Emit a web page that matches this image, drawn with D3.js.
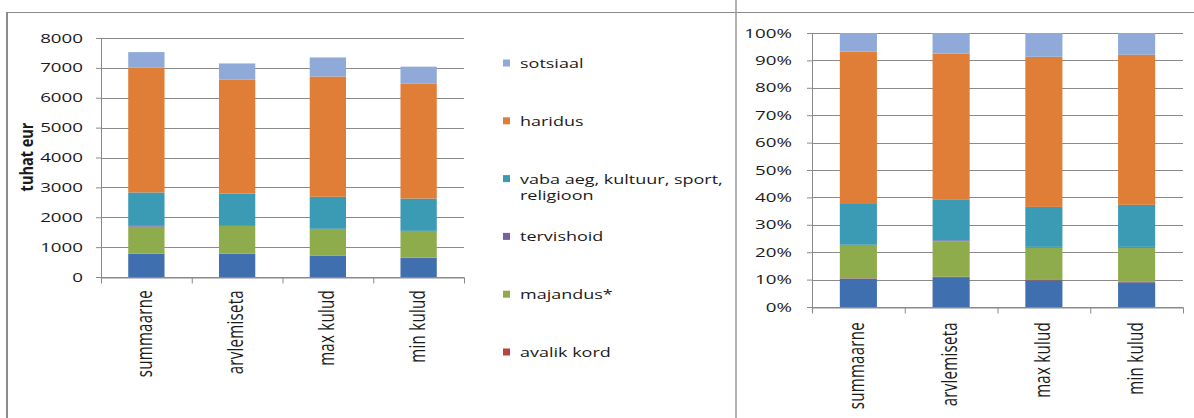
<!DOCTYPE html>
<html>
<head>
<meta charset="utf-8">
<script src="https://cdn.jsdelivr.net/npm/d3@7"></script>
<style>
  body { margin: 0; background: #fff; }
  text { font-family: "Open Sans", sans-serif; fill: #1a1a1a; }
</style>
</head>
<body>
<svg id="chart" width="1194" height="418"></svg>
<script>
// Stacked bars: absolute (tuhat eur) on the left, 100% stacked on the right

var categories = ["summaarne", "arvlemiseta", "max kulud", "min kulud"];

// series, bottom of stack first (values in tuhat eur)
var uldised    = [780, 780, 715, 635];
var avalikKord = [10, 10, 10, 10];
var majandus   = [896, 925, 863, 875];
var tervishoid = [25, 25, 25, 25];
var vabaAeg    = [1119, 1055, 1072, 1080];
var haridus    = [4185, 3817, 4026, 3855];
var sotsiaal   = [513, 536, 638, 560];

var keys = ["uldised", "avalikKord", "majandus", "tervishoid", "vabaAeg", "haridus", "sotsiaal"];
var seriesNames = ["üldised valitsussektori teenused", "avalik kord", "majandus*", "tervishoid",
  "vaba aeg, kultuur, sport, religioon", "haridus", "sotsiaal"];
var colors = ["#3f6fae", "#b8433f", "#8eac4c", "#7b5fa3", "#3b9ab4", "#e07e37", "#8fa9d8"];

var leftTicks = [0, 1000, 2000, 3000, 4000, 5000, 6000, 7000, 8000];
var rightTicks = [0, 0.1, 0.2, 0.3, 0.4, 0.5, 0.6, 0.7, 0.8, 0.9, 1];

// legend shows top series first; the bottom one is cut off in the original
var legendKeys = ["sotsiaal", "haridus", "vabaAeg", "tervishoid", "majandus", "avalikKord"];
var legendLines = {
  sotsiaal: ["sotsiaal"],
  haridus: ["haridus"],
  vabaAeg: ["vaba aeg, kultuur, sport,", "religioon"],
  tervishoid: ["tervishoid"],
  majandus: ["majandus*"],
  avalikKord: ["avalik kord"]
};

var svg = d3.select("#chart"),
  gridColor = "#8a8a8a",
  stretch = 1.5; // text in the picture is wider than it is tall

var series = {uldised: uldised, avalikKord: avalikKord, majandus: majandus, tervishoid: tervishoid,
  vabaAeg: vabaAeg, haridus: haridus, sotsiaal: sotsiaal};

var table = categories.map(function (c, i) {
  var row = {cat: c};
  keys.forEach(function (k) { row[k] = series[k][i]; });
  return row;
});

var color = d3.scaleOrdinal().domain(keys).range(colors);

// panel frame
svg.append("line").attr("x1", 6).attr("x2", 1194).attr("y1", 12.5).attr("y2", 12.5)
  .attr("stroke", "#8c8c8c").attr("stroke-width", 1);
svg.append("line").attr("x1", 7).attr("x2", 7).attr("y1", 12).attr("y2", 418)
  .attr("stroke", "#8c8c8c").attr("stroke-width", 2);
svg.append("line").attr("x1", 736).attr("x2", 736).attr("y1", 0).attr("y2", 418)
  .attr("stroke", "#9a9a9a").attr("stroke-width", 1.5);

function drawChart(opt) {
  var g = svg.append("g");
  var x = d3.scaleBand().domain(categories).range(opt.xRange).paddingInner(0.6).paddingOuter(0.3);
  var xEdge = d3.scaleLinear().domain([0, categories.length]).range(opt.xRange);
  var y = d3.scaleLinear().domain(opt.yDomain).range(opt.yRange);

  // gridlines behind the bars
  g.append("g").selectAll("line")
    .data(opt.ticks)
    .enter().append("line")
    .attr("x1", opt.xRange[0]).attr("x2", opt.xRange[1])
    .attr("y1", function (d) { return Math.round(y(d)) + 0.5; })
    .attr("y2", function (d) { return Math.round(y(d)) + 0.5; })
    .attr("stroke", gridColor);

  var stack = d3.stack().keys(keys);
  if (opt.expand) stack.offset(d3.stackOffsetExpand);

  g.append("g").selectAll("g")
    .data(stack(table))
    .enter().append("g")
    .attr("fill", function (d) { return color(d.key); })
    .selectAll("rect")
    .data(function (d) { return d; })
    .enter().append("rect")
    .attr("x", function (d) { return x(d.data.cat); })
    .attr("width", x.bandwidth())
    .attr("y", function (d) { return y(d[1]); })
    .attr("height", function (d) { return y(d[0]) - y(d[1]); });

  // y axis
  var yAxis = g.append("g")
    .attr("transform", "translate(" + opt.xRange[0] + ",0)")
    .call(d3.axisLeft(y).tickValues(opt.ticks).tickSize(5).tickSizeOuter(0).tickFormat(""));
  yAxis.selectAll("line, path").attr("stroke", gridColor);

  g.append("g").selectAll("text")
    .data(opt.ticks)
    .enter().append("text")
    .attr("transform", function (d) {
      return "translate(" + (opt.xRange[0] - opt.labelGap) + "," + y(d) + ") scale(" + stretch + ",1)";
    })
    .attr("text-anchor", "end")
    .attr("dy", "0.36em")
    .style("font-size", "12.5px")
    .text(opt.format);

  // x axis with ticks at category boundaries
  var xAxis = g.append("g")
    .attr("transform", "translate(0," + (Math.round(opt.yRange[0]) + 0.5) + ")")
    .call(d3.axisBottom(xEdge).tickValues(d3.range(categories.length + 1)).tickSize(6).tickSizeOuter(0).tickFormat(""));
  xAxis.selectAll("line, path").attr("stroke", gridColor);

  g.append("g").selectAll("text")
    .data(categories)
    .enter().append("text")
    .attr("transform", function (d) {
      return "translate(" + (x(d) + x.bandwidth() / 2) + "," + (opt.yRange[0] + opt.catGap) +
        ") scale(" + stretch + ",1) rotate(-90)";
    })
    .attr("text-anchor", "end")
    .attr("dy", "0.27em")
    .style("font-size", "15px")
    .style("letter-spacing", "0.3px")
    .text(function (d) { return d; });

  return g;
}

var left = drawChart({
  xRange: [101, 464], yDomain: [0, 8000], yRange: [277, 38],
  ticks: leftTicks, format: d3.format("d"), labelGap: 18, catGap: 13, expand: false
});

left.append("text")
  .attr("transform", "translate(27,157) scale(1.2,1) rotate(-90)")
  .attr("text-anchor", "middle")
  .attr("dy", "0.35em")
  .style("font-size", "14.5px")
  .style("font-weight", "bold")
  .text("tuhat eur");

drawChart({
  xRange: [812, 1183], yDomain: [0, 1], yRange: [307, 33],
  ticks: rightTicks, format: d3.format(".0%"), labelGap: 20, catGap: 15, expand: true
});

// legend
var ly = d3.scalePoint().domain(legendKeys).range([63, 352]);
var legend = svg.append("g").selectAll("g")
  .data(legendKeys)
  .enter().append("g")
  .attr("transform", function (d) { return "translate(503," + ly(d) + ")"; });

legend.append("rect")
  .attr("x", 0).attr("y", -3.5).attr("width", 7).attr("height", 7)
  .attr("fill", function (d) { return color(d); });

legend.append("text")
  .attr("transform", "translate(17,0) scale(" + stretch + ",1)")
  .style("font-size", "12px")
  .selectAll("tspan")
  .data(function (d) { return legendLines[d]; })
  .enter().append("tspan")
  .attr("x", 0)
  .attr("y", function (d, i) { return 5 + i * 16; })
  .text(function (d) { return d; });
</script>
</body>
</html>
